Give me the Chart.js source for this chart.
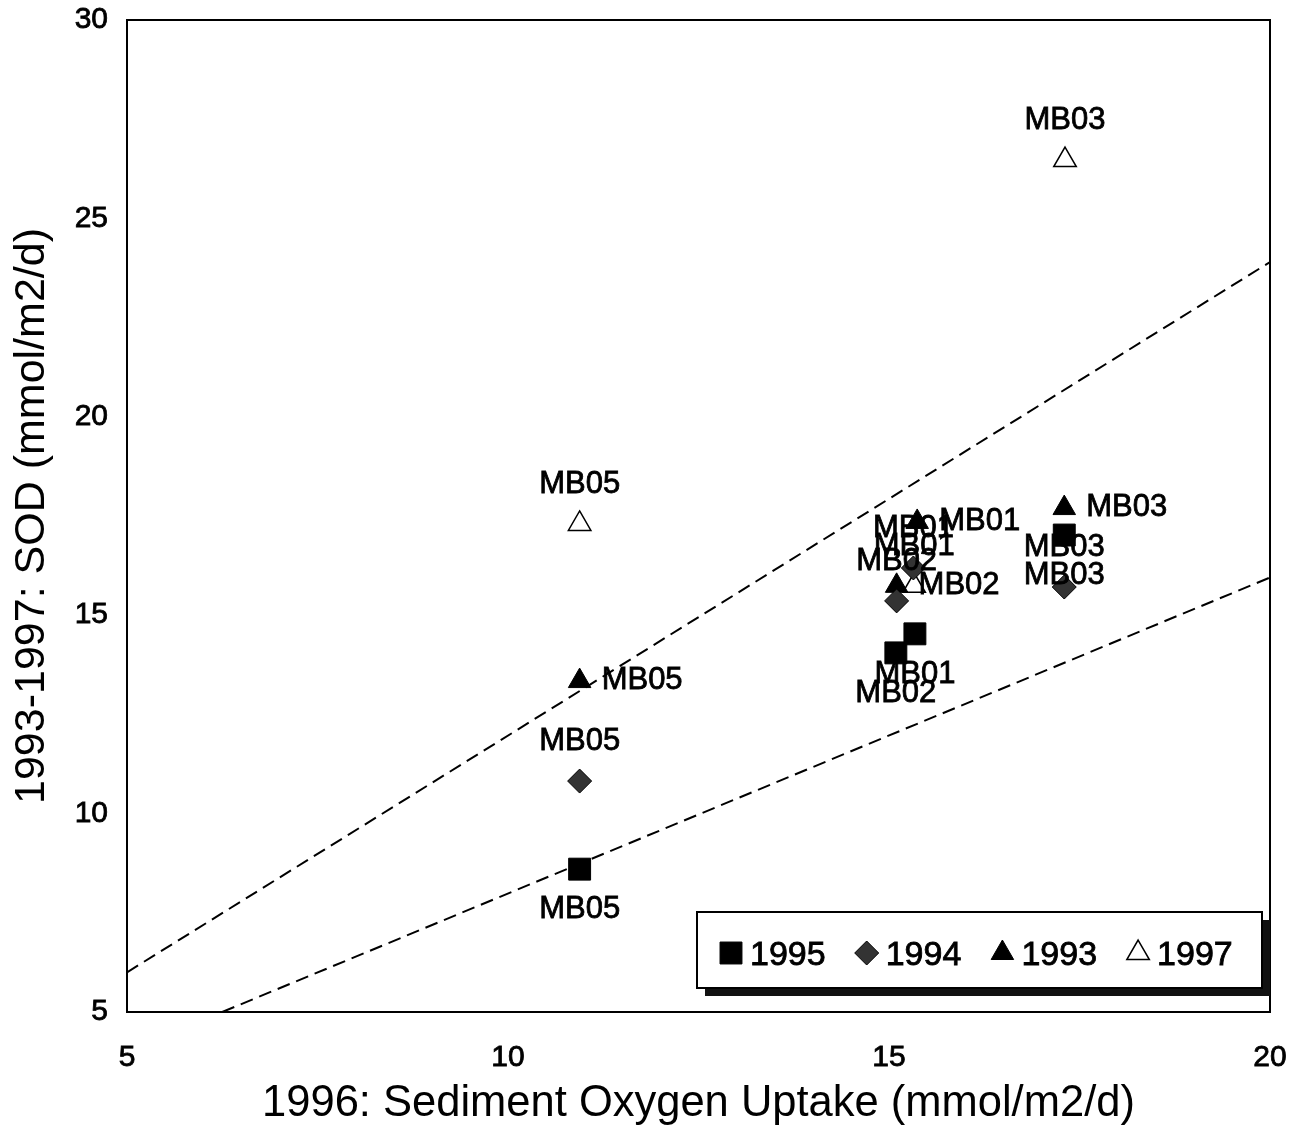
<!DOCTYPE html>
<html>
<head>
<meta charset="utf-8">
<script src="https://cdn.jsdelivr.net/npm/chart.js@4.4.1/dist/chart.umd.min.js"></script>
<style>
  html, body { margin: 0; padding: 0; background: #fff; }
  #wrap { width: 1291px; height: 1131px; }
</style>
</head>
<body>
<div id="wrap"><canvas id="sodChart" width="1291" height="1131"></canvas></div>
<script>
// values
const years = ["1995", "1994", "1993", "1997"];

const sites1995 = ["MB05", "MB01", "MB02", "MB03"];
const x1995 = [10.94, 15.34, 15.09, 17.30];
const y1995 = [8.60, 14.53, 14.05, 17.02];

const sites1994 = ["MB05", "MB01", "MB02", "MB03"];
const x1994 = [10.94, 15.32, 15.10, 17.30];
const y1994 = [10.82, 16.19, 15.36, 15.71];

const sites1993 = ["MB05", "MB01", "MB02", "MB03"];
const x1993 = [10.94, 15.37, 15.10, 17.30];
const y1993 = [13.34, 17.35, 15.74, 17.70];

const sites1997 = ["MB05", "MB01", "MB03"];
const x1997 = [10.94, 15.33, 17.31];
const y1997 = [17.30, 15.74, 26.47];

// dashed reference lines (end points)
const upperLineX = [5, 20];
const upperLineY = [6, 23.9];
const lowerLineX = [6.25, 20];
const lowerLineY = [5, 15.95];

const xTicks = [5, 10, 15, 20];
const yTicks = [5, 10, 15, 20, 25, 30];

const FONT = "'Liberation Sans', Arial, sans-serif";

function pts(xs, ys) {
  return xs.map((x, i) => ({ x: x, y: ys[i] }));
}

// where the site name goes relative to its marker
const labelPos = { "1995": "below", "1994": "above", "1993": "right", "1997": "above" };

function inkText(ctx, txt, x, y) {
  ctx.fillText(txt, x, y);
  ctx.strokeText(txt, x, y);
}

const siteLabels = {
  id: "siteLabels",
  afterDatasetsDraw(chart) {
    const ctx = chart.ctx;
    ctx.save();
    ctx.font = "31px " + FONT;
    ctx.fillStyle = "#000";
    ctx.strokeStyle = "#000";
    ctx.lineWidth = 0.8;
    ctx.textBaseline = "alphabetic";
    chart.data.datasets.forEach((ds, di) => {
      if (!ds.sites) return;
      const meta = chart.getDatasetMeta(di);
      const pos = labelPos[ds.label];
      meta.data.forEach((el, i) => {
        const name = ds.sites[i];
        if (pos === "right") {
          ctx.textAlign = "left";
          inkText(ctx, name, el.x + 22, el.y + 8);
        } else if (pos === "above") {
          ctx.textAlign = "center";
          inkText(ctx, name, el.x, el.y - 31);
        } else {
          ctx.textAlign = "center";
          inkText(ctx, name, el.x, el.y + 49);
        }
      });
    });
    ctx.restore();
  }
};

const frameAndLegend = {
  id: "frameAndLegend",
  afterDraw(chart) {
    const ctx = chart.ctx;
    const a = chart.chartArea;
    ctx.save();
    // plot frame
    ctx.strokeStyle = "#000";
    ctx.lineWidth = 2;
    ctx.strokeRect(a.left, a.top, a.right - a.left, a.bottom - a.top);

    // legend box with drop shadow
    const bx = 697, by = 912, bw = 565, bh = 76;
    ctx.fillStyle = "#111";
    ctx.fillRect(bx + 8, by + 8, bw, bh);
    ctx.fillStyle = "#fff";
    ctx.fillRect(bx, by, bw, bh);
    ctx.strokeStyle = "#000";
    ctx.lineWidth = 2;
    ctx.strokeRect(bx, by, bw, bh);

    ctx.font = "34px " + FONT;
    ctx.textAlign = "left";
    ctx.textBaseline = "alphabetic";
    const cy = 953;
    chart.data.datasets.forEach((ds) => {
      if (!ds.sites) return;
      const k = years.indexOf(ds.label);
      const sx = 731 + k * 135.7;
      ctx.fillStyle = ds.backgroundColor;
      ctx.strokeStyle = ds.borderColor;
      ctx.lineWidth = ds.borderWidth;
      Chart.helpers.drawPoint(ctx, {
        pointStyle: ds.pointStyle,
        radius: ds.pointRadius,
        borderWidth: ds.borderWidth
      }, sx, cy);
      ctx.fillStyle = "#000";
      ctx.strokeStyle = "#000";
      ctx.lineWidth = 0.8;
      inkText(ctx, ds.label, sx + 19, cy + 12);
    });
    ctx.restore();
  }
};

function yearSet(label, sites, xs, ys, style, radius, fill) {
  return {
    type: "scatter",
    label: label,
    sites: sites,
    data: pts(xs, ys),
    pointStyle: style,
    pointRadius: radius,
    pointHoverRadius: radius,
    backgroundColor: fill,
    borderColor: "#000",
    borderWidth: style === "triangle" && fill === "#fff" ? 1.5 : 1,
    showLine: false,
    order: 1
  };
}

function refLine(xs, ys) {
  return {
    type: "line",
    data: pts(xs, ys),
    borderColor: "#000",
    borderWidth: 2,
    borderDash: [13, 7],
    pointRadius: 0,
    fill: false,
    order: 10
  };
}

const ctx = document.getElementById("sodChart").getContext("2d");
new Chart(ctx, {
  type: "scatter",
  data: {
    datasets: [
      yearSet("1995", sites1995, x1995, y1995, "rect", 15.5, "#000"),
      yearSet("1994", sites1994, x1994, y1994, "rectRot", 12, "#333"),
      yearSet("1993", sites1993, x1993, y1993, "triangle", 13, "#000"),
      yearSet("1997", sites1997, x1997, y1997, "triangle", 13, "#fff"),
      refLine(upperLineX, upperLineY),
      refLine(lowerLineX, lowerLineY)
    ]
  },
  options: {
    responsive: false,
    animation: false,
    layout: { padding: { top: 20, right: 21, left: 0, bottom: 0 } },
    plugins: {
      legend: { display: false },
      tooltip: { enabled: false }
    },
    scales: {
      x: {
        type: "linear",
        min: 5,
        max: 20,
        afterBuildTicks: s => { s.ticks = xTicks.map(v => ({ value: v })); },
        afterFit: s => {
          s.height = 119;
          s.paddingLeft = 0; s.paddingRight = 0;
        },
        grid: { display: false, drawTicks: false },
        border: { display: false },
        ticks: {
          color: "#000", font: { family: FONT, size: 30 }, padding: 28, maxRotation: 0,
          textStrokeColor: "#000", textStrokeWidth: 0.8
        },
        title: {
          display: true,
          text: "1996: Sediment Oxygen Uptake (mmol/m2/d)",
          color: "#000",
          font: { family: FONT, size: 43.5 },
          padding: { top: 0, bottom: 1 }
        }
      },
      y: {
        type: "linear",
        min: 5,
        max: 30,
        afterBuildTicks: s => { s.ticks = yTicks.map(v => ({ value: v })); },
        afterFit: s => {
          s.width = 127;
          s.paddingTop = 0; s.paddingBottom = 0;
        },
        grid: { display: false, drawTicks: false },
        border: { display: false },
        ticks: {
          color: "#000", font: { family: FONT, size: 30 }, padding: 19,
          textStrokeColor: "#000", textStrokeWidth: 0.8
        },
        title: {
          display: true,
          text: "1993-1997: SOD (mmol/m2/d)",
          color: "#000",
          font: { family: FONT, size: 43 },
          padding: { top: 6, bottom: 0 }
        }
      }
    }
  },
  plugins: [siteLabels, frameAndLegend]
});
</script>
</body>
</html>
